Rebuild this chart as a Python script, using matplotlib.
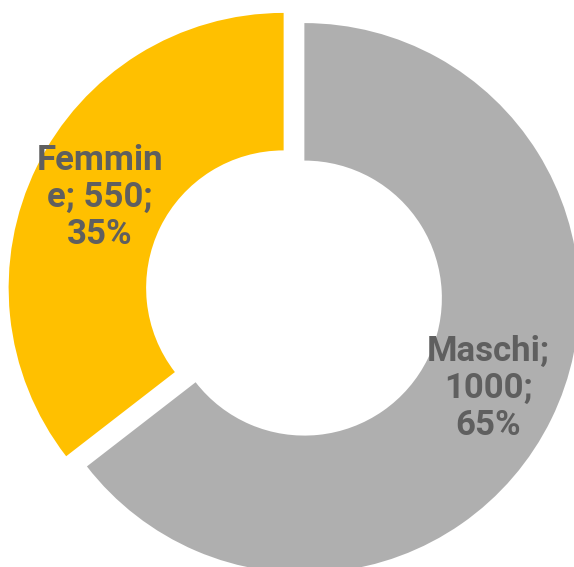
import matplotlib
matplotlib.use("Agg")
import matplotlib.pyplot as plt

# data
categories = ["Maschi", "Femmine"]
values = [1000, 550]
colors = ["#AFAFAF", "#FFC000"]
# data labels as wrapped in the original chart (category; value; percent)
label_texts = ["Maschi;\n1000;\n65%", "Femmin\ne; 550;\n35%"]

plt.rcParams['font.family'] = ['Roboto', 'DejaVu Sans']

fig = plt.figure(figsize=(5.74, 5.67), dpi=100)
ax = fig.add_axes([0, 0, 1, 1])

wedges, texts = ax.pie(
    values,
    labels=label_texts,
    colors=colors,
    startangle=90,
    counterclock=False,
    explode=[0.042, 0.042],
    radius=1.0,
    labeldistance=0.745,
    wedgeprops=dict(width=0.5, edgecolor='none'),
    textprops=dict(color='#5F5F5F', fontsize=25, fontweight='bold',
                   linespacing=1.15),
)
for t in texts:
    t.set_ha('center')
    t.set_va('center')
    t.set_multialignment('center')

# the original chart is cropped on the right and bottom
scale = 275.0
cx, cy = 294.0, 293.0
ax.set_xlim(-cx / scale, (574 - cx) / scale)
ax.set_ylim(-(567 - cy) / scale, cy / scale)
ax.set_aspect('auto')
ax.axis('off')

fig.savefig("out.png", dpi=100)
